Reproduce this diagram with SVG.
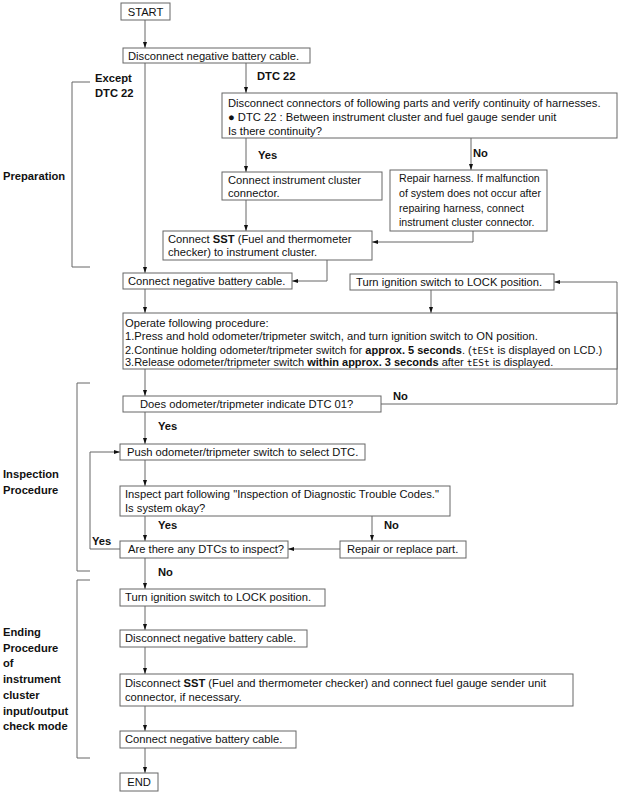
<svg xmlns="http://www.w3.org/2000/svg" width="621" height="796" viewBox="0 0 621 796">
<style>
text{font-family:"Liberation Sans",Arial,sans-serif;font-size:11.2px;fill:#111}
.b{font-weight:bold}
.s{font-size:11px}
.r{font-size:10.6px}
.box{fill:#fff;stroke:#666;stroke-width:1}
.ln{fill:none;stroke:#666;stroke-width:1}
.lcd{font-family:"DejaVu Sans Mono",monospace;font-size:9.5px}
</style>
<defs>
<marker id="ah" markerWidth="6" markerHeight="4" refX="6" refY="2" orient="auto" markerUnits="userSpaceOnUse">
<path d="M0,0 L6,2 L0,4 z" fill="#111"/>
</marker>
</defs>
<rect width="621" height="796" fill="#fff"/>

<g id="brackets">
<path class="ln" d="M90,82 H72 V267 H90"/>
<path class="ln" d="M90,383 H77 V571 H90"/>
<path class="ln" d="M90,580 H77 V758 H90"/>
<text class="b" x="3" y="180">Preparation</text>
<text class="b" x="3" y="478">Inspection</text>
<text class="b" x="3" y="494">Procedure</text>
<text class="b" x="3" y="636">Ending</text>
<text class="b" x="3" y="652">Procedure</text>
<text class="b" x="3" y="667">of</text>
<text class="b" x="3" y="683">instrument</text>
<text class="b" x="3" y="699">cluster</text>
<text class="b" x="3" y="715">input/output</text>
<text class="b" x="3" y="730">check mode</text>
</g>

<g id="connectors">
<path class="ln" marker-end="url(#ah)" d="M145,20 V48"/>
<path class="ln" marker-end="url(#ah)" d="M145,63 V273"/>
<path class="ln" marker-end="url(#ah)" d="M246,63 V93"/>
<path class="ln" marker-end="url(#ah)" d="M246,138 V172"/>
<path class="ln" marker-end="url(#ah)" d="M471,138 V170"/>
<path class="ln" marker-end="url(#ah)" d="M246,200 V231"/>
<path class="ln" marker-end="url(#ah)" d="M473,231 V242 H372"/>
<path class="ln" marker-end="url(#ah)" d="M327,260 V281 H292"/>
<path class="ln" marker-end="url(#ah)" d="M145,289 V313"/>
<path class="ln" marker-end="url(#ah)" d="M431,290 V313"/>
<path class="ln" marker-end="url(#ah)" d="M145,369 V396"/>
<path class="ln" marker-end="url(#ah)" d="M381,404 H617 V282 H554"/>
<path class="ln" marker-end="url(#ah)" d="M145,412 V444"/>
<path class="ln" marker-end="url(#ah)" d="M145,460 V486"/>
<path class="ln" marker-end="url(#ah)" d="M145,516 V541"/>
<path class="ln" marker-end="url(#ah)" d="M372,516 V541"/>
<path class="ln" marker-end="url(#ah)" d="M340,549 H288"/>
<path class="ln" marker-end="url(#ah)" d="M120,549 H90 V452 H120"/>
<path class="ln" marker-end="url(#ah)" d="M145,558 V589"/>
<path class="ln" marker-end="url(#ah)" d="M145,606 V630"/>
<path class="ln" marker-end="url(#ah)" d="M145,647 V674"/>
<path class="ln" marker-end="url(#ah)" d="M145,706 V731"/>
<path class="ln" marker-end="url(#ah)" d="M145,748 V773"/>
<text class="b" x="95" y="82">Except</text>
<text class="b" x="95" y="97">DTC 22</text>
<text class="b" x="257" y="80">DTC 22</text>
<text class="b" x="258" y="159">Yes</text>
<text class="b" x="473" y="157">No</text>
<text class="b" x="393" y="400">No</text>
<text class="b" x="158" y="430">Yes</text>
<text class="b" x="158" y="529">Yes</text>
<text class="b" x="384" y="529">No</text>
<text class="b" x="92" y="545">Yes</text>
<text class="b" x="158" y="576">No</text>
</g>

<g id="start"><rect class="box" x="121" y="3" width="49" height="17"/><text x="145.5" y="15.5" text-anchor="middle">START</text></g>
<g id="disconnect1"><rect class="box" x="123" y="48" width="187" height="15"/><text x="128" y="60">Disconnect negative battery cable.</text></g>
<g id="dtc22check"><rect class="box" x="222" y="93" width="395" height="45"/>
<text x="228" y="107">Disconnect connectors of following parts and verify continuity of harnesses.</text>
<text x="228" y="121">● DTC 22 : Between instrument cluster and fuel gauge sender unit</text>
<text x="228" y="135">Is there continuity?</text></g>
<g id="connectcluster"><rect class="box" x="222" y="172" width="160" height="28"/>
<text x="228" y="184">Connect instrument cluster</text>
<text x="228" y="197">connector.</text></g>
<g id="repairharness"><rect class="box" x="390" y="170" width="157" height="61"/>
<text class="r" x="399" y="182">Repair harness. If malfunction</text>
<text class="r" x="399" y="197">of system does not occur after</text>
<text class="r" x="399" y="212">repairing harness, connect</text>
<text class="r" x="399" y="226">instrument cluster connector.</text></g>
<g id="sst"><rect class="box" x="163" y="231" width="209" height="29"/>
<text x="168" y="243">Connect <tspan class="b">SST</tspan> (Fuel and thermometer</text>
<text x="168" y="256">checker) to instrument cluster.</text></g>
<g id="connect1"><rect class="box" x="123" y="273" width="169" height="16"/><text x="128" y="285">Connect negative battery cable.</text></g>
<g id="lock1"><rect class="box" x="350" y="274" width="204" height="16"/><text x="356" y="286">Turn ignition switch to LOCK position.</text></g>
<g id="operate"><rect class="box" x="123" y="313" width="494" height="56"/>
<text x="125" y="327">Operate following procedure:</text>
<text x="125" y="340">1.Press and hold odometer/tripmeter switch, and turn ignition switch to ON position.</text>
<text class="s" x="125" y="354">2.Continue holding odometer/tripmeter switch for <tspan class="b">approx. 5 seconds</tspan>. (<tspan class="lcd">tESt</tspan> is displayed on LCD.)</text>
<text class="s" x="125" y="366">3.Release odometer/tripmeter switch <tspan class="b">within approx. 3 seconds</tspan> after <tspan class="lcd">tESt</tspan> is displayed.</text></g>
<g id="dtc01"><rect class="box" x="123" y="396" width="258" height="16"/><text x="140" y="408">Does odometer/tripmeter indicate DTC 01?</text></g>
<g id="push"><rect class="box" x="120" y="444" width="245" height="16"/><text x="127" y="456">Push odometer/tripmeter switch to select DTC.</text></g>
<g id="inspect"><rect class="box" x="120" y="486" width="330" height="30"/>
<text x="125" y="498">Inspect part following "Inspection of Diagnostic Trouble Codes."</text>
<text x="125" y="512">Is system okay?</text></g>
<g id="anydtc"><rect class="box" x="120" y="541" width="168" height="17"/><text x="128" y="553">Are there any DTCs to inspect?</text></g>
<g id="repairpart"><rect class="box" x="340" y="541" width="126" height="17"/><text x="347" y="553">Repair or replace part.</text></g>
<g id="lock2"><rect class="box" x="120" y="589" width="205" height="17"/><text x="125" y="601">Turn ignition switch to LOCK position.</text></g>
<g id="disconnect2"><rect class="box" x="120" y="630" width="187" height="17"/><text x="125" y="642">Disconnect negative battery cable.</text></g>
<g id="disconnectsst"><rect class="box" x="120" y="674" width="453" height="32"/>
<text x="125" y="687">Disconnect <tspan class="b">SST</tspan> (Fuel and thermometer checker) and connect fuel gauge sender unit</text>
<text x="125" y="701">connector, if necessary.</text></g>
<g id="connect2"><rect class="box" x="120" y="731" width="176" height="17"/><text x="125" y="743">Connect negative battery cable.</text></g>
<g id="end"><rect class="box" x="120" y="773" width="38" height="18"/><text x="139" y="786" text-anchor="middle">END</text></g>
</svg>
